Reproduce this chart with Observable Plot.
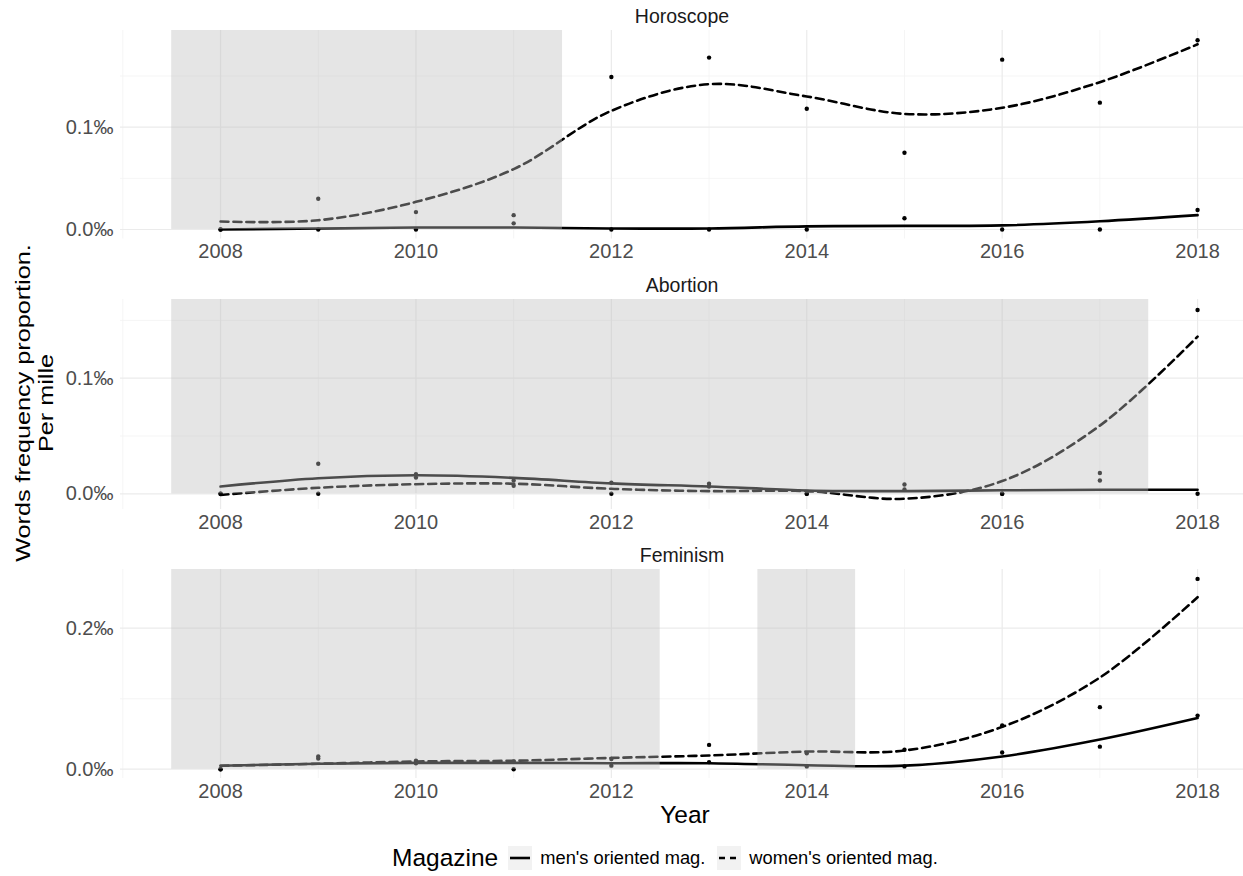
<!DOCTYPE html>
<html><head><meta charset="utf-8">
<script src="https://cdn.jsdelivr.net/npm/d3@7"></script>
<script src="https://cdn.jsdelivr.net/npm/@observablehq/plot@0.6"></script>
<style>
body{margin:0;background:#fff;font-family:"Liberation Sans",Arial,Helvetica,sans-serif;}
#wrap{position:relative;width:1243px;height:876px;overflow:hidden;background:#fff;}
.panel{position:absolute;left:0;}
#ytitle{position:absolute;left:34px;top:403px;transform:translate(-50%,-50%) rotate(-90deg) scaleX(1.2);font-size:21px;line-height:22.5px;text-align:center;white-space:nowrap;color:#000;}
#xtitle{position:absolute;left:685px;top:815px;transform:translate(-50%,-50%);font-size:24.5px;color:#000;}
#legend{position:absolute;left:392px;top:846px;height:24px;display:flex;align-items:center;white-space:nowrap;color:#000;}
#legend .ttl{font-size:24.5px;margin-right:10px;}
#legend .lab{font-size:18.3px;margin-right:12px;margin-left:8px;}
#legend svg{display:block;}
</style></head><body><div id="wrap">
<div id="ytitle">Words frequency proportion.<br>Per mille</div>
<div id="xtitle">Year</div>
<div id="legend"></div>
</div>
<script>
// ---- data ----
const years = [2008, 2009, 2010, 2011, 2012, 2013, 2014, 2015, 2016, 2017, 2018];
const categories = ["Horoscope", "Abortion", "Feminism"];
const magazines = ["men's oriented mag.", "women's oriented mag."];
const legendTitle = "Magazine";

// observed points (per mille)
const horoscopeMen   = [0, 0, 0, 0.006, 0, 0, 0, 0.011, 0, 0, 0.019];
const horoscopeWomen = [0, 0.030, 0.017, 0.014, 0.149, 0.168, 0.118, 0.075, 0.166, 0.124, 0.185];
const abortionMen    = [0, 0, 0.017, 0.0115, 0.0095, 0.0087, 0, 0.008, 0, 0.018, 0];
const abortionWomen  = [0, 0.026, 0.014, 0.007, 0, 0.0063, 0, 0.0037, 0, 0.0115, 0.159];
const feminismMen    = [0, 0.015, 0.0085, 0, 0.005, 0.010, 0.004, 0.004, 0.0236, 0.032, 0.076];
const feminismWomen  = [0, 0.018, 0.012, 0.011, 0.0145, 0.0345, 0.0227, 0.0275, 0.062, 0.088, 0.270];

// smoothed (loess) curves
const horoscopeMenFit   = [0, 0.001, 0.002, 0.002, 0.001, 0.001, 0.003, 0.0035, 0.004, 0.008, 0.014];
const horoscopeWomenFit = [0.0078, 0.009, 0.027, 0.059, 0.116, 0.142, 0.130, 0.113, 0.119, 0.144, 0.181];
const abortionMenFit    = [0.0063, 0.0135, 0.016, 0.0138, 0.009, 0.0063, 0.0029, 0.0023, 0.003, 0.0035, 0.0035];
const abortionWomenFit  = [-0.001, 0.0052, 0.0083, 0.0087, 0.0043, 0.0023, 0.0023, -0.0043, 0.011, 0.059, 0.136];
const feminismMenFit    = [0.0048, 0.0077, 0.009, 0.009, 0.0085, 0.0085, 0.0057, 0.005, 0.018, 0.042, 0.0725];
const feminismWomenFit  = [0.0048, 0.0077, 0.011, 0.012, 0.016, 0.0195, 0.025, 0.0265, 0.060, 0.130, 0.244];

// shaded year spans
const horoscopeShade = [[2007.5, 2011.5]];
const abortionShade  = [[2007.5, 2017.5]];
const feminismShade  = [[2007.5, 2012.5], [2013.5, 2014.5]];

// tick values
const xMajor = [2008, 2010, 2012, 2014, 2016, 2018];
const xMinor = [2007, 2009, 2011, 2013, 2015, 2017];
const horoscopeYMajor = [0, 0.1], horoscopeYMinor = [0.05, 0.15];
const abortionYMajor  = [0, 0.1], abortionYMinor  = [0.05, 0.15];
const feminismYMajor  = [0, 0.2], feminismYMinor  = [0.1];

// ---- layout config ----
const panels = [
  {name: categories[0], men: horoscopeMen, women: horoscopeWomen, menFit: horoscopeMenFit, womenFit: horoscopeWomenFit,
   shade: horoscopeShade, yMajor: horoscopeYMajor, yMinor: horoscopeYMinor, domain: [-0.0093, 0.1945], top: 0, mb: 30.5},
  {name: categories[1], men: abortionMen, women: abortionWomen, menFit: abortionMenFit, womenFit: abortionWomenFit,
   shade: abortionShade, yMajor: abortionYMajor, yMinor: abortionYMinor, domain: [-0.0136, 0.1681], top: 269, mb: 29},
  {name: categories[2], men: feminismMen, women: feminismWomen, menFit: feminismMenFit, womenFit: feminismWomenFit,
   shade: feminismShade, yMajor: feminismYMajor, yMinor: feminismYMinor, domain: [-0.0132, 0.2833], top: 539, mb: 30}
];

const wrap = document.getElementById("wrap");
const fmt = v => d3.format(".1f")(v) + "\u2030";
const dash = "8,5";

for (const p of panels) {
  const pts = [];
  years.forEach((y, i) => {
    pts.push({year: y, value: p.men[i], mag: magazines[0]});
    pts.push({year: y, value: p.women[i], mag: magazines[1]});
  });
  const menLine = years.map((y, i) => ({year: y, value: p.menFit[i]}));
  const womenLine = years.map((y, i) => ({year: y, value: p.womenFit[i]}));
  const top = p.domain[1];
  const chart = Plot.plot({
    width: 1243, height: 269,
    marginLeft: 120, marginRight: 0, marginTop: 30, marginBottom: p.mb,
    style: {fontFamily: '"Liberation Sans", Arial, sans-serif', background: "transparent"},
    x: {domain: [2006.976, 2018.47], label: null},
    y: {domain: p.domain, label: null},
    marks: [
      Plot.ruleX(xMinor, {stroke: "#f3f3f3", strokeWidth: 0.8}),
      Plot.ruleY(p.yMinor, {stroke: "#f3f3f3", strokeWidth: 0.8}),
      Plot.ruleX(xMajor, {stroke: "#ebebeb", strokeWidth: 1.2}),
      Plot.ruleY(p.yMajor, {stroke: "#ebebeb", strokeWidth: 1.2}),
      Plot.dot(pts, {x: "year", y: "value", r: 2.2, fill: "#000", stroke: "none"}),
      Plot.line(menLine, {x: "year", y: "value", stroke: "#000", strokeWidth: 2.6, curve: "catmull-rom"}),
      Plot.line(womenLine, {x: "year", y: "value", stroke: "#000", strokeWidth: 2.6, strokeDasharray: dash, curve: "catmull-rom"}),
      Plot.rect(p.shade, {x1: d => d[0], x2: d => d[1], y1: 0, y2: top, fill: "#bebebe", fillOpacity: 0.4}),
      Plot.axisX({ticks: xMajor, tickSize: 0, tickPadding: 5, fontSize: 20, color: "#4d4d4d", tickFormat: d => String(d), label: null}),
      Plot.axisY({ticks: p.yMajor, tickSize: 0, tickPadding: 7, fontSize: 20, color: "#4d4d4d", tickFormat: fmt, label: null}),
      Plot.text([p.name], {frameAnchor: "top", dy: -14, lineAnchor: "middle", fontSize: 19.5, fill: "#1a1a1a"})
    ]
  });
  chart.classList.add("panel");
  chart.style.top = p.top + "px";
  wrap.appendChild(chart);
}

// legend
const lg = document.getElementById("legend");
const t = document.createElement("span"); t.className = "ttl"; t.textContent = legendTitle; lg.appendChild(t);
magazines.forEach((m, i) => {
  const k = d3.create("svg").attr("width", 24).attr("height", 24);
  k.append("rect").attr("width", 24).attr("height", 24).attr("fill", "#f2f2f2");
  k.append("line").attr("x1", 2).attr("x2", 22).attr("y1", 12).attr("y2", 12)
    .attr("stroke", "#000").attr("stroke-width", 2.6).attr("stroke-dasharray", i ? "6,5" : null);
  lg.appendChild(k.node());
  const s = document.createElement("span"); s.className = "lab"; s.textContent = m; lg.appendChild(s);
});
</script>
</body></html>
